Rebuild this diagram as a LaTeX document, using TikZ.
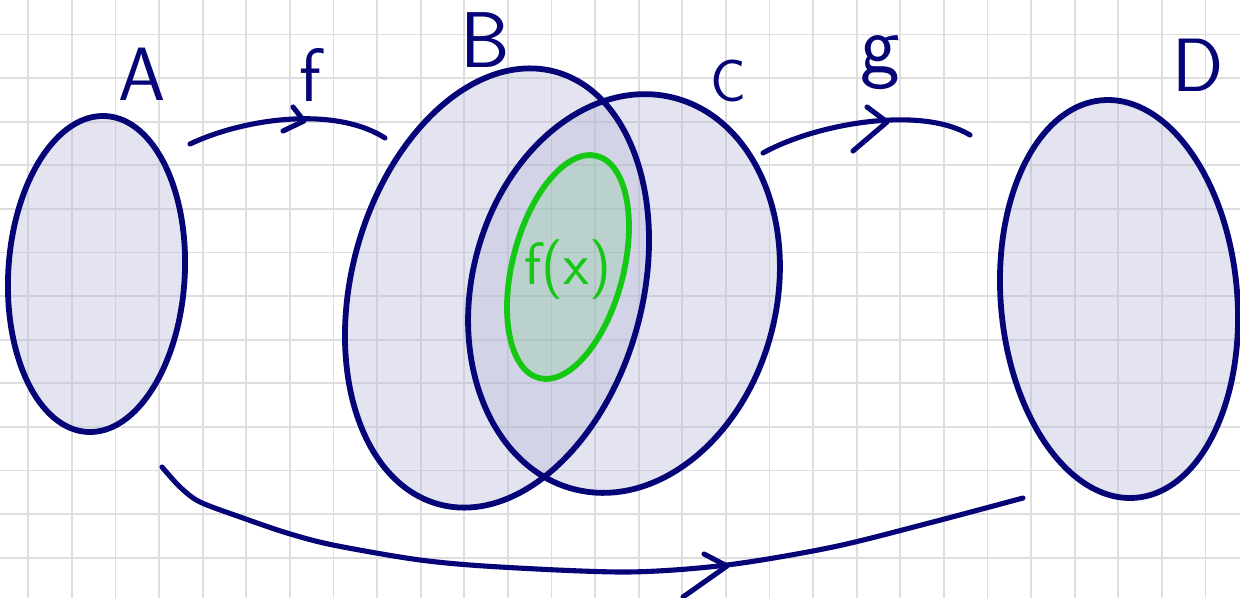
\documentclass[tikz,border=0pt]{standalone}
\usetikzlibrary{shapes.geometric}
\definecolor{navy}{RGB}{5,5,120}
\definecolor{lav}{RGB}{180,180,215}
\definecolor{pen}{RGB}{20,200,20}
\definecolor{gridc}{RGB}{222,222,222}
\begin{document}
\begin{tikzpicture}[x=0.02cm,y=-0.02cm,
  gridline/.style={gridc,line width=1pt},
  setfill/.style={ellipse,fill=lav,fill opacity=0.35,inner sep=0pt,outer sep=0pt,line width=3.3pt},
  setline/.style={ellipse,draw=navy,line width=3.3pt,inner sep=0pt,outer sep=0pt},
  imgfill/.style={ellipse,fill=pen,fill opacity=0.12,inner sep=0pt,outer sep=0pt,line width=3.3pt},
  imgline/.style={ellipse,draw=pen,line width=3.3pt,inner sep=0pt,outer sep=0pt},
  sA/.style={minimum width=3.53cm,minimum height=6.33cm,rotate=-3.4},
  sB/.style={minimum width=5.82cm,minimum height=8.96cm,rotate=-15},
  sC/.style={minimum width=6.10cm,minimum height=8.08cm,rotate=-14.2},
  sF/.style={minimum width=2.22cm,minimum height=4.59cm,rotate=-14.6},
  sD/.style={minimum width=4.73cm,minimum height=7.98cm,rotate=4.9},
  mapline/.style={navy,line width=2.9pt,line cap=round,line join=round},
  lbl/.style={text=navy,inner sep=0pt,font=\sffamily\fontsize{43}{43}\selectfont}]
\useasboundingbox (0,0) rectangle (1240,598);
\fill[white] (0,0) rectangle (1240,598);
% grid
\foreach \i in {0,...,27} \draw[gridline] ({28.3+43.6*\i},0) -- ({28.3+43.6*\i},598);
\foreach \j in {0,...,12} \draw[gridline] (0,{34.5+43.6*\j}) -- (1240,{34.5+43.6*\j});
% set fills
\node[setfill,sA] (Afill) at (96.5,274) {};
\node[setfill,sB] (Bfill) at (497,288) {};
\node[setfill,sC] (Cfill) at (624,293.5) {};
\node[imgfill,sF] (FXfill) at (568,267) {};
\node[setfill,sD] (Dfill) at (1119,299) {};
% set outlines
\node[setline,sA] (A) at (96.5,274) {};
\node[setline,sB] (B) at (497,288) {};
\node[setline,sC] (C) at (624,293.5) {};
\node[imgline,sF] (FX) at (568,267) {};
\node[setline,sD] (D) at (1119,299) {};
% labels
\node[lbl] (lA) at (142,74) {A};
\node[lbl,font=\sffamily\fontsize{45}{45}\selectfont] (lB) at (485,40) {B};
\node[lbl,font=\sffamily\fontsize{34}{34}\selectfont] (lC) at (728,81) {C};
\node[lbl] (lD) at (1198,65) {D};
\node[lbl] (lf) at (310,75) {f};
\node[lbl,font=\sffamily\fontsize{48}{48}\selectfont] (lg) at (880,63) {g};
\node[text=pen,inner sep=0pt,font=\sffamily\fontsize{34}{34}\selectfont] (lfx) at (568,270) {f(x)};
% map f
\coordinate (f1) at (190,144);
\coordinate (f2) at (385,138);
\draw[mapline] (f1) .. controls (245,118) and (335,106) .. (f2);
\coordinate (fh1) at (293,107);
\coordinate (fh2) at (304,121);
\coordinate (fh3) at (283,131);
\draw[mapline] (fh1) -- (fh2) -- (fh3);
% map g
\coordinate (g1) at (763,153);
\coordinate (g2) at (970,135);
\coordinate (gh1) at (867,107);
\coordinate (gh2) at (887,122);
\coordinate (gh3) at (853,151);
\draw[mapline] (g1) .. controls (815,124) and (920,105) .. (g2);
\draw[mapline] (gh1) -- (gh2) -- (gh3);
% map g o f
\coordinate (h1) at (162,467);
\coordinate (h2) at (180,487);
\coordinate (h3) at (200,502);
\coordinate (h4) at (243,518);
\coordinate (h5) at (287,533);
\coordinate (h6) at (333,545);
\coordinate (h7) at (420,560);
\coordinate (h8) at (500,567);
\coordinate (h9) at (627,572);
\coordinate (h10) at (727,565);
\coordinate (h11) at (833,547);
\coordinate (h12) at (933,522);
\coordinate (h13) at (1023,498);
\draw[mapline] plot[smooth,tension=0.5] coordinates {(h1) (h2) (h3) (h4) (h5) (h6) (h7) (h8) (h9) (h10) (h11) (h12) (h13)};
\coordinate (hh1) at (704,554);
\coordinate (hh2) at (727,566);
\coordinate (hh3) at (683,597);
\draw[mapline] (hh1) -- (hh2) -- (hh3);
\end{tikzpicture}
\end{document}
